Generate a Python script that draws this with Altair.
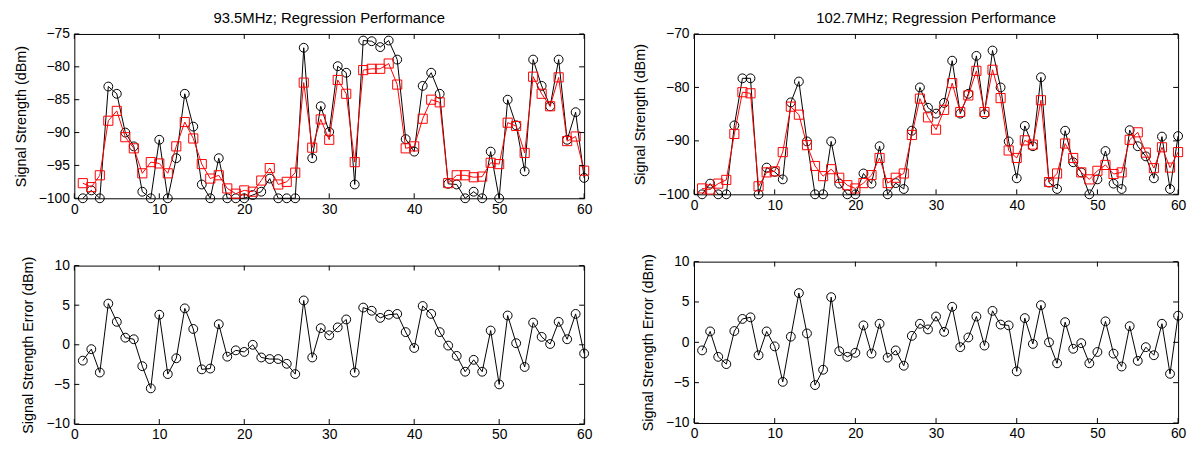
import altair as alt
import pandas as pd

x_vals = list(range(1, 61))

# 93.5 MHz
actual_1 = [-100, -98.8, -100, -83, -84.1, -90, -92.1, -99, -100, -91.1,
            -100, -93.9, -84.1, -89.1, -97.9, -100, -93.9, -100, -100, -100,
            -99.5, -99, -97, -100, -100, -100, -77.1, -93.9, -86, -89.9,
            -79.9, -80.9, -97.9, -76, -76.1, -77, -76, -78.9, -91, -92.9,
            -82.9, -80.9, -84.1, -97.8, -97.9, -100, -99, -100, -92.9, -100,
            -85, -88.9, -95.9, -78.9, -82.9, -86, -78.9, -91.1, -86.9, -96.9]
pred_1 = [-97.7, -98.3, -96.5, -88.2, -86.7, -90.7, -92.4, -96.2, -94.5, -94.7,
          -96.2, -92.1, -88.4, -90.9, -94.8, -97, -96.5, -98.5, -99.3, -98.8,
          -99, -97.3, -95.4, -97.9, -97.5, -96.1, -82.4, -92.3, -88, -91.1,
          -82, -84.1, -94.5, -80.5, -80.3, -80.3, -79.5, -82.7, -92.4, -92.1,
          -87.9, -85, -85.4, -97.7, -96.5, -96.5, -96.8, -96.7, -94.6, -94.8,
          -88.5, -89, -93.1, -81.5, -84.1, -86, -81.6, -91.3, -90.6, -95.8]
err_1 = [-2.0, -0.55, -3.5, 5.2, 2.9, 0.9, 0.7, -2.7, -5.5, 3.8,
         -3.7, -1.7, 4.6, 2.0, -3.1, -3.0, 2.6, -1.5, -0.7, -0.9,
         0.0, -1.6, -1.8, -1.8, -2.4, -3.7, 5.6, -1.6, 2.1, 1.2,
         2.2, 3.2, -3.5, 4.7, 4.3, 3.4, 3.8, 3.9, 1.6, -0.4,
         4.9, 3.9, 1.6, -0.1, -1.4, -3.4, -1.9, -3.4, 1.8, -5.0,
         3.7, 0.2, -2.8, 2.8, 1.0, 0.1, 2.9, 0.7, 3.9, -1.1]

# 102.7 MHz
actual_2 = [-100, -98, -100, -100, -87.1, -78.3, -78.3, -100, -95, -95.8,
            -97.2, -82.8, -78.9, -90.1, -100, -100, -90.1, -98, -100, -100,
            -96.1, -98, -91, -100, -97.9, -99, -88.1, -80, -83.8, -84.9,
            -82.9, -75, -84.9, -81.2, -74.1, -85, -73.1, -80, -90.1, -97,
            -87.2, -91, -78.1, -97.8, -99, -88.1, -94, -95.9, -100, -97.2,
            -91.9, -98, -99, -88, -91, -92.9, -97, -89.2, -99, -89.1]
pred_2 = [-98.9, -99.1, -98, -97.3, -88.7, -80.9, -81.1, -98.5, -95.9, -95.7,
          -92.1, -83.6, -85.1, -90.8, -94.7, -96.6, -95.3, -96.9, -98.3, -98.9,
          -97.9, -96.4, -93.2, -97.9, -96.9, -96.1, -88.9, -82.1, -85.6, -87.9,
          -84.2, -79.2, -84.6, -81.5, -76.9, -84.6, -76.7, -82, -91.8, -93.2,
          -89.9, -90.7, -82.4, -97.7, -96.1, -90.5, -93.2, -95.9, -97.2, -95.6,
          -94.5, -96.2, -95.9, -89.8, -88.4, -92.2, -95.1, -91.2, -95, -92.1]
err_2 = [-1.0, 1.35, -1.8, -2.7, 1.4, 2.9, 3.1, -1.6, 1.35, -0.5,
         -4.9, 0.7, 6.1, 1.1, -5.3, -3.4, 5.6, -1.1, -1.8, -1.3,
         2.1, -1.4, 2.3, -1.9, -1.0, -2.9, 0.8, 2.3, 1.6, 3.2,
         1.3, 4.4, -0.6, 0.6, 3.2, -0.4, 3.9, 2.2, 2.1, -3.6,
         3.0, -0.2, 4.6, 0.0, -2.6, 2.5, -0.8, -0.1, -2.6, -1.2,
         2.6, -1.4, -3.0, 2.0, -2.3, -0.6, -1.6, 2.3, -3.9, 3.3]

titles = ["93.5MHz; Regression Performance", "102.7MHz; Regression Performance"]
x_ticks = [0, 10, 20, 30, 40, 50, 60]
y_ticks_1 = [-100, -95, -90, -85, -80, -75]
y_ticks_2 = [-100, -90, -80, -70]
err_ticks = [-10, -5, 0, 5, 10]

FONT = "Liberation Sans"
TICK = 5
RED = "#ff0000"


def axes(yt, ytitle):
    xax = alt.Axis(values=x_ticks, title=None, ticks=False, domain=False, grid=False,
                   labelFlush=False, labelPadding=4, format="d")
    yax = alt.Axis(values=yt, title=ytitle, ticks=False, domain=False, grid=False,
                   labelPadding=5, titlePadding=10, format="d")
    return xax, yax


def tick_layers(w, h, xs, ys, yt, xax, yax):
    xdf = pd.DataFrame({"t": x_ticks})
    ydf = pd.DataFrame({"t": yt})
    rule = dict(color="black", strokeWidth=1)
    return [
        alt.Chart(xdf).mark_rule(**rule).encode(
            x=alt.X("t:Q", scale=xs, axis=xax), y=alt.value(h), y2=alt.value(h - TICK)),
        alt.Chart(xdf).mark_rule(**rule).encode(
            x=alt.X("t:Q", scale=xs, axis=xax), y=alt.value(0), y2=alt.value(TICK)),
        alt.Chart(ydf).mark_rule(**rule).encode(
            y=alt.Y("t:Q", scale=ys, axis=yax), x=alt.value(0), x2=alt.value(TICK)),
        alt.Chart(ydf).mark_rule(**rule).encode(
            y=alt.Y("t:Q", scale=ys, axis=yax), x=alt.value(w), x2=alt.value(w - TICK)),
    ]


def top_panel(actual, pred, title, ydom, yt, w, h):
    df = pd.DataFrame({"x": x_vals, "a": actual, "p": pred})
    xs = alt.Scale(domain=[0, 60], nice=False, zero=False)
    ys = alt.Scale(domain=ydom, nice=False, zero=False)
    xax, yax = axes(yt, "Signal Strength (dBm)")
    base = alt.Chart(df)
    X = alt.X("x:Q", scale=xs, axis=xax)
    YA = alt.Y("a:Q", scale=ys, axis=yax)
    YP = alt.Y("p:Q", scale=ys, axis=yax)
    bl = base.mark_line(color="black", strokeWidth=1).encode(x=X, y=YA)
    bp = base.mark_point(shape="circle", filled=False, color="black", size=80,
                         strokeWidth=1, opacity=1).encode(x=X, y=YA)
    rl = base.mark_line(color=RED, strokeWidth=1).encode(x=X, y=YP)
    rp = base.mark_point(shape="square", filled=False, color=RED, size=85,
                         strokeWidth=1, opacity=1).encode(x=X, y=YP)
    return alt.layer(bl, bp, rl, rp, *tick_layers(w, h, xs, ys, yt, xax, yax)).properties(
        width=w, height=h,
        title=alt.TitleParams(title, font=FONT, fontSize=15, fontWeight="normal",
                              color="black", anchor="middle", offset=1))


def err_panel(err, w, h):
    df = pd.DataFrame({"x": x_vals, "e": err})
    xs = alt.Scale(domain=[0, 60], nice=False, zero=False)
    ys = alt.Scale(domain=[-10, 10], nice=False, zero=False)
    xax, yax = axes(err_ticks, "Signal Strength Error (dBm)")
    base = alt.Chart(df)
    X = alt.X("x:Q", scale=xs, axis=xax)
    Y = alt.Y("e:Q", scale=ys, axis=yax)
    bl = base.mark_line(color="black", strokeWidth=1).encode(x=X, y=Y)
    bp = base.mark_point(shape="circle", filled=False, color="black", size=80,
                         strokeWidth=1, opacity=1).encode(x=X, y=Y)
    return alt.layer(bl, bp, *tick_layers(w, h, xs, ys, err_ticks, xax, yax)).properties(
        width=w, height=h)


tl = top_panel(actual_1, pred_1, titles[0], [-100, -75], y_ticks_1, 515, 166)
bl = err_panel(err_1, 515, 160)
tr = top_panel(actual_2, pred_2, titles[1], [-100, -70], y_ticks_2, 489, 162)
br = err_panel(err_2, 489, 163)

left = alt.vconcat(tl, bl, spacing=39)
right = alt.vconcat(tr, br, spacing=40)

chart = alt.hconcat(left, right, spacing=39).properties(
    padding={"left": 4, "top": 0, "right": 0, "bottom": 0}
).configure_view(stroke="black", strokeWidth=1).configure_axis(
    labelFont=FONT, labelFontSize=14, labelColor="black",
    titleFont=FONT, titleFontSize=14.5, titleFontWeight="normal", titleColor="black"
)

chart.save("out.html", embed_options={"renderer": "svg", "actions": False})
